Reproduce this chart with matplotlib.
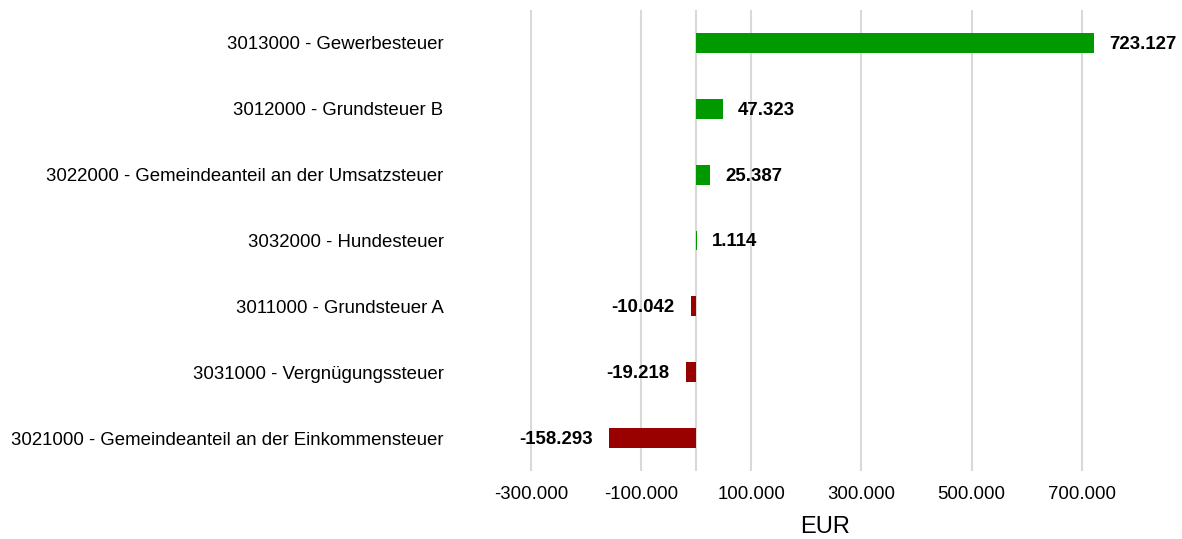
import numpy as np
import matplotlib.pyplot as plt

plt.rcParams['font.family'] = ['Liberation Sans', 'DejaVu Sans']

kategorien = [
    '3013000 - Gewerbesteuer',
    '3012000 - Grundsteuer B',
    '3022000 - Gemeindeanteil an der Umsatzsteuer',
    '3032000 - Hundesteuer',
    '3011000 - Grundsteuer A',
    '3031000 - Vergnügungssteuer',
    '3021000 - Gemeindeanteil an der Einkommensteuer',
]
werte = [723127, 47323, 25387, 1114, -10042, -19218, -158293]
ticks = [-300000, -100000, 0, 100000, 300000, 500000, 700000]


def de_format(v, pos=None):
    return f'{v:,.0f}'.replace(',', '.')


fig = plt.figure(figsize=(11.82, 5.39), dpi=100)
ax = fig.add_axes([470 / 1182, 68 / 539, 710 / 1182, 461 / 539])

y = np.arange(len(kategorien))
farben = ['#009a00' if w >= 0 else '#990000' for w in werte]
ax.barh(y, werte, height=0.3, color=farben, zorder=3)

for yi, w in zip(y, werte):
    if w >= 0:
        ax.annotate(de_format(w), (w, yi), xytext=(11, -1), textcoords='offset points',
                    ha='left', va='center', fontsize=13.4, fontweight='bold')
    else:
        ax.annotate(de_format(w), (w, yi), xytext=(-12, -1), textcoords='offset points',
                    ha='right', va='center', fontsize=13.4, fontweight='bold')

ax.set_xlim(-411700, 879000)
ax.set_ylim(len(kategorien) - 0.5, -0.5)
ax.set_yticks(y)
ax.set_yticklabels(kategorien, fontsize=13.4)
ax.set_xticks(ticks)
ax.set_xticklabels(['' if t == 0 else de_format(t) for t in ticks], fontsize=13.4)
ax.xaxis.grid(True, color='#d9d9d9', linewidth=1.5, zorder=0)
ax.tick_params(axis='both', length=0)
ax.tick_params(axis='y', pad=19)
ax.tick_params(axis='x', pad=11)
for s in ax.spines.values():
    s.set_visible(False)
ax.set_xlabel('EUR', fontsize=17, labelpad=9)

plt.savefig('out.png', dpi=100)
